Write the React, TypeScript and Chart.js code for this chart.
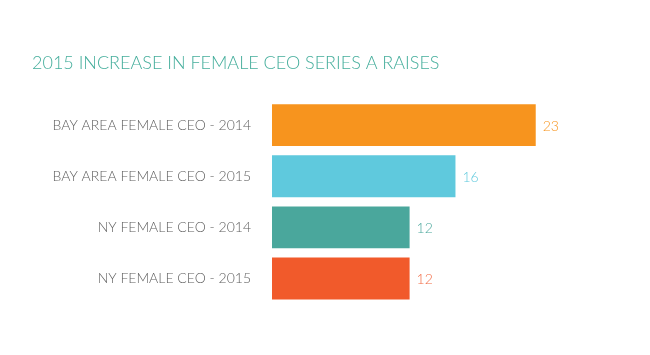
import React, { useEffect, useRef } from "react";
import { Chart, registerables } from "chart.js";

Chart.register(...registerables);

const categories = [
  "BAY AREA FEMALE CEO - 2014",
  "BAY AREA FEMALE CEO - 2015",
  "NY FEMALE CEO - 2014",
  "NY FEMALE CEO - 2015",
];
const values = [23, 16, 12, 12];
const barColors = ["#F7941E", "#5FC9DD", "#4AA79C", "#F15A2B"];
const labelColors = ["#F7941E", "#5FC9DD", "#4AA79C", "#F26C45"];
const titleText = "2015 INCREASE IN FEMALE CEO SERIES A RAISES";

const FONT = "Lato, 'Open Sans', sans-serif";

const valueLabels = {
  id: "valueLabels",
  afterDatasetsDraw(chart: any) {
    const ctx = chart.ctx;
    const meta = chart.getDatasetMeta(0);
    ctx.save();
    ctx.font = `300 14px ${FONT}`;
    ctx.textBaseline = "middle";
    ctx.textAlign = "left";
    meta.data.forEach((bar: any, i: number) => {
      ctx.fillStyle = labelColors[i];
      ctx.fillText(String(values[i]), bar.x + 7, bar.y + 1);
    });
    ctx.restore();
  },
};

export default function App() {
  const ref = useRef<HTMLCanvasElement | null>(null);
  useEffect(() => {
    document.body.style.margin = "0";
    const chart = new Chart(ref.current!, {
      type: "bar",
      data: {
        labels: categories,
        datasets: [
          {
            data: values,
            backgroundColor: barColors,
            borderWidth: 0,
            barPercentage: 0.82,
            categoryPercentage: 1,
          },
        ],
      },
      options: {
        indexAxis: "y",
        animation: false,
        responsive: false,
        maintainAspectRatio: false,
        layout: { padding: { top: 0, bottom: 51, left: 32, right: 34 } },
        plugins: {
          legend: { display: false },
          tooltip: { enabled: false },
          title: {
            display: true,
            text: titleText,
            align: "start",
            color: "#45AE9C",
            font: { family: FONT, size: 18, weight: "300" as any },
            padding: { top: 52, bottom: 26 },
          },
        },
        scales: {
          x: {
            display: false,
            min: 0,
            max: 30,
          },
          y: {
            grid: { display: false },
            border: { display: false },
            ticks: {
              color: "#5f5f5f",
              font: { family: FONT, size: 14, weight: "300" as any },
              padding: 13,
            },
            afterFit(scale: any) {
              scale.width = 240;
            },
          },
        },
      },
      plugins: [valueLabels],
    });
    return () => chart.destroy();
  }, []);
  return (
    <div style={{ width: 650, height: 355 }}>
      <canvas ref={ref} width={650} height={355} />
    </div>
  );
}
